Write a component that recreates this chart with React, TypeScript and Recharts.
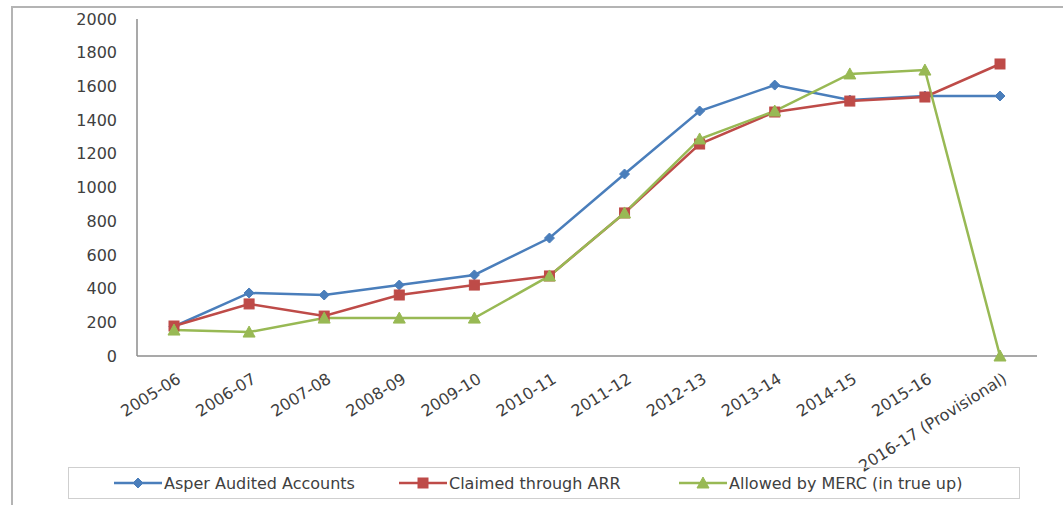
import React from 'react';
import { LineChart, Line, XAxis, YAxis } from 'recharts';

const years = [
  '2005-06', '2006-07', '2007-08', '2008-09', '2009-10', '2010-11',
  '2011-12', '2012-13', '2013-14', '2014-15', '2015-16', '2016-17 (Provisional)'
];
const auditedAccounts = [175, 374, 362, 421, 481, 700, 1080, 1454, 1608, 1519, 1543, 1543];
const claimedArr = [178, 309, 237, 362, 421, 475, 849, 1258, 1448, 1513, 1537, 1733];
const allowedMerc = [154, 142, 225, 225, 225, 475, 849, 1288, 1454, 1674, 1697, 0];
const yTicks = [0, 200, 400, 600, 800, 1000, 1200, 1400, 1600, 1800, 2000];

const BLUE = '#4A7EBB';
const RED = '#BE4B48';
const GREEN = '#98B954';
const FONT = '"DejaVu Sans", Verdana, sans-serif';

const data = years.map((year, i) => ({
  year,
  audited: auditedAccounts[i],
  claimed: claimedArr[i],
  allowed: allowedMerc[i]
}));

const Diamond = ({ cx, cy, color }: any) => (
  <path d={`M${cx},${cy - 5} L${cx + 5},${cy} L${cx},${cy + 5} L${cx - 5},${cy} Z`} fill={color} stroke={color} />
);
const Square = ({ cx, cy, color }: any) => (
  <rect x={cx - 5} y={cy - 5} width={10} height={10} fill={color} stroke={color} />
);
const Triangle = ({ cx, cy, color }: any) => (
  <path d={`M${cx},${cy - 6} L${cx + 6},${cy + 5} L${cx - 6},${cy + 5} Z`} fill={color} stroke={color} />
);

// rotated category labels, end anchored under the tick
const XTick = ({ x, y, payload }: any) => (
  <g transform={`translate(${x + 5},${y + 13})`}>
    <text
      transform="rotate(-32)"
      textAnchor="end"
      dy="0.35em"
      fill="#404040"
      fontSize={16}
      fontFamily={FONT}
    >
      {payload.value}
    </text>
  </g>
);

const legendItems = [
  { label: 'Asper Audited Accounts', color: BLUE, left: 113, Marker: Diamond },
  { label: 'Claimed through ARR', color: RED, left: 398, Marker: Square },
  { label: 'Allowed by MERC (in true up)', color: GREEN, left: 678, Marker: Triangle }
];

export default function App() {
  return (
    <div style={{ position: 'absolute', left: 0, top: 0, width: 1063, height: 505, overflow: 'hidden', background: '#fff' }}>
      <div style={{ position: 'absolute', left: 0, top: 0 }}>
        <LineChart
          width={1063}
          height={505}
          data={data}
          margin={{ top: 19, right: 26, bottom: 49, left: 77 }}
        >
          <XAxis
            dataKey="year"
            tick={<XTick />}
            tickLine={false}
            axisLine={{ stroke: '#8c8c8c', strokeWidth: 1.5 }}
            height={100}
            interval={0}
            padding={{ left: 37, right: 37 }}
          />
          <YAxis
            domain={[0, 2000]}
            ticks={yTicks}
            width={60}
            tickLine={false}
            tickSize={0}
            tickMargin={20}
            axisLine={{ stroke: '#8c8c8c', strokeWidth: 1.5 }}
            tick={{ fill: '#404040', fontSize: 16, fontFamily: FONT }}
            interval={0}
          />
          <Line
            type="linear"
            dataKey="audited"
            stroke={BLUE}
            strokeWidth={2.5}
            dot={(p: any) => <Diamond key={`a-${p.index}`} cx={p.cx} cy={p.cy} color={BLUE} />}
            isAnimationActive={false}
          />
          <Line
            type="linear"
            dataKey="claimed"
            stroke={RED}
            strokeWidth={2.5}
            dot={(p: any) => <Square key={`c-${p.index}`} cx={p.cx} cy={p.cy} color={RED} />}
            isAnimationActive={false}
          />
          <Line
            type="linear"
            dataKey="allowed"
            stroke={GREEN}
            strokeWidth={2.5}
            dot={(p: any) => <Triangle key={`g-${p.index}`} cx={p.cx} cy={p.cy} color={GREEN} />}
            isAnimationActive={false}
          />
        </LineChart>
      </div>

      {/* legend box */}
      <div style={{ position: 'absolute', left: 68, top: 467, width: 950, height: 30, border: '1px solid #cfcfcf' }}>
        {legendItems.map(({ label, color, left, Marker }) => (
          <div key={label} style={{ position: 'absolute', left: left - 68, top: 0, height: 30, display: 'flex', alignItems: 'center' }}>
            <svg width={48} height={14} style={{ display: 'block' }}>
              <line x1={0} y1={7} x2={48} y2={7} stroke={color} strokeWidth={2.5} />
              <Marker cx={24} cy={7} color={color} />
            </svg>
            <span style={{ fontFamily: FONT, fontSize: 16, color: '#404040', marginLeft: 2 }}>{label}</span>
          </div>
        ))}
      </div>

      {/* outer frame */}
      <div style={{ position: 'absolute', left: 11, top: 6, width: 1070, height: 520, borderLeft: '2px solid #b4b4b4', borderTop: '2px solid #b4b4b4', pointerEvents: 'none' }} />
    </div>
  );
}
